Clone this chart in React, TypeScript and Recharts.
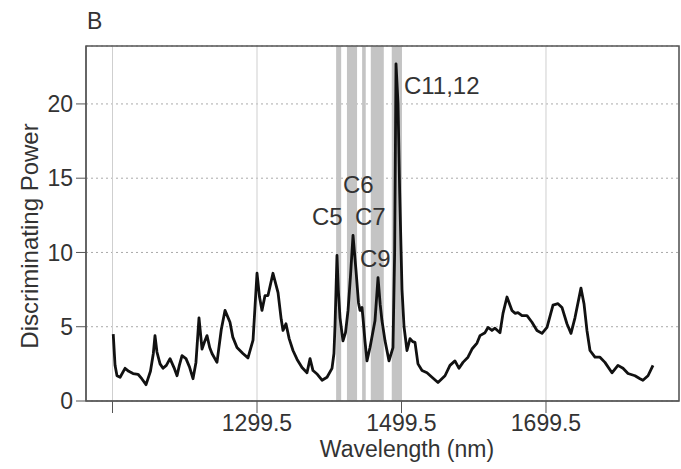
import React from "react"
import {
  LineChart,
  Line,
  XAxis,
  YAxis,
  CartesianGrid,
  ReferenceArea,
  ReferenceDot,
  Label,
} from "recharts"

// spectrum
const wavelengths = [
  1100.5, 1103, 1105.7, 1110, 1116.8, 1122, 1127.9, 1134.8, 1140, 1145.9, 1152, 1156, 1158.3, 1161, 1165.3,
  1169.4, 1174, 1179.1, 1184.6, 1188.8, 1192, 1195.7, 1201.2, 1206, 1210.9, 1215, 1219.2, 1223.4, 1227, 1230.3,
  1234, 1237.2, 1244.1, 1250, 1255.2, 1262.1, 1266, 1271.8, 1280, 1287, 1294, 1299.5, 1303, 1306.4, 1310.6,
  1314.7, 1321.6, 1328.6, 1333, 1335.5, 1339.6, 1344, 1349.3, 1355, 1361.8, 1368.7, 1372.9, 1377, 1383, 1389.5,
  1396.4, 1403.3, 1406, 1407.5, 1410.2, 1412, 1414.4, 1418.5, 1422, 1425.5, 1429, 1432.4, 1436.5, 1440, 1442.1,
  1444.8, 1446.2, 1449, 1451.7, 1455.9, 1462.8, 1467, 1470, 1472.5, 1476.7, 1482.2, 1487.7, 1490, 1491.9, 1494.7,
  1497, 1500.2, 1503, 1507.1, 1511.3, 1515, 1518.2, 1522.3, 1527.9, 1534.8, 1541.7, 1550, 1559.7, 1566.6, 1573.5,
  1579.1, 1584.6, 1591.5, 1597.1, 1604, 1608.1, 1615.1, 1619.2, 1624.7, 1628.9, 1635.8, 1640, 1645.5, 1652.4,
  1656.6, 1660.7, 1666.3, 1673.2, 1680.1, 1687, 1694, 1700.9, 1709.2, 1716.1, 1721.6, 1728.5, 1734.1, 1739.6,
  1747.9, 1752.1, 1756.2, 1760.4, 1767.3, 1774.2, 1781.1, 1790.8, 1799.1, 1806.1, 1813, 1822.7, 1829.6, 1833.7,
  1840.7, 1847.6,
]
const power = [
  4.5, 2.4, 1.7, 1.6, 2.2, 2.0, 1.85, 1.8, 1.5, 1.1, 2.0, 3.2, 4.4, 3.3, 2.5,
  2.2, 2.4, 2.85, 2.25, 1.7, 2.4, 3.05, 2.85, 2.3, 1.5, 2.6, 5.6, 3.5, 4.0, 4.4,
  3.6, 3.2, 2.6, 4.8, 6.1, 5.3, 4.3, 3.6, 3.2, 2.9, 4.1, 8.6, 7.0, 6.1, 7.1,
  7.1, 8.6, 7.3, 5.5, 4.75, 5.2, 4.2, 3.4, 2.8, 2.25, 1.9, 2.85, 2.05, 1.8, 1.4,
  1.6, 2.2, 3.2, 5.1, 9.8, 7.5, 5.6, 4.05, 4.6, 6.1, 8.5, 11.15, 8.8, 6.6, 6.1,
  6.3, 5.6, 4.0, 2.7, 3.6, 5.4, 8.3, 6.5, 5.4, 4.05, 2.7, 3.6, 10, 22.7, 20.0,
  14, 7.5, 5.0, 3.4, 4.2, 4.0, 3.95, 2.5, 2.05, 1.9, 1.6, 1.25, 1.7, 2.4, 2.7,
  2.2, 2.6, 2.95, 3.5, 3.9, 4.4, 4.6, 4.95, 4.75, 4.9, 4.6, 5.9, 7.0, 6.1,
  5.9, 5.95, 5.75, 5.75, 5.3, 4.75, 4.55, 4.95, 6.45, 6.55, 6.3, 5.2, 4.55, 5.6,
  7.6, 6.55, 4.75, 3.4, 2.95, 2.95, 2.6, 1.9, 2.4, 2.2, 1.85, 1.7, 1.5, 1.4,
  1.7, 2.4,
]

// shaded wavelength windows
const bandStart = [1409, 1424, 1445, 1457, 1486]
const bandEnd = [1416, 1438, 1450, 1475, 1500]

// peak labels (left edge / baseline in data units)
const peakNames = ["C5", "C6", "C7", "C9", "C11,12"]
const peakX = [1375.6, 1418.5, 1435.1, 1442, 1502.9]
const peakY = [11.83, 13.98, 11.83, 9.0, 20.7]

const xTicks = [1099.5, 1299.5, 1499.5, 1699.5]
const yTicks = [0, 5, 10, 15, 20]
const xDomain = [1062.8, 1883.6]
const yDomain = [0, 23.9]

const font = "'Liberation Sans', Arial, sans-serif"
const textColor = "#333"

const data = wavelengths.map((wl, i) => ({ wl, p: power[i] }))

export default function App() {
  return (
    <div style={{ position: "absolute", left: 0, top: 0, width: 681, height: 469, background: "#fff" }}>
      <svg style={{ position: "absolute", left: 0, top: 0 }} width={681} height={40}>
        <text x={87} y={29} fontSize={23} fontFamily={font} fill={textColor}>
          B
        </text>
      </svg>
      <LineChart
        width={681}
        height={469}
        data={data}
        margin={{ top: 46, right: 2, left: 0, bottom: 0 }}
        style={{ fontFamily: font }}
      >
        {bandStart.map((s, i) => (
          <ReferenceArea
            key={`band-${i}`}
            x1={s}
            x2={bandEnd[i]}
            y1={yDomain[0]}
            y2={yDomain[1]}
            fill="#c4c4c4"
            fillOpacity={1}
            stroke="none"
          />
        ))}
        <CartesianGrid vertical={false} stroke="#aaa" strokeDasharray="2 3" />
        <CartesianGrid horizontal={false} stroke="#cfcfcf" />
        <XAxis
          dataKey="wl"
          type="number"
          domain={xDomain}
          ticks={xTicks}
          allowDataOverflow
          tickFormatter={(v: number) => (v === 1099.5 ? "" : v.toFixed(1))}
          tickSize={12}
          tickMargin={2}
          height={68}
          axisLine={{ stroke: "#555" }}
          tickLine={{ stroke: "#555" }}
          tick={{ fill: textColor, fontSize: 23 }}
        >
          <Label
            content={() => (
              <text x={407} y={457} textAnchor="middle" fontSize={23} fill={textColor} fontFamily={font}>
                Wavelength (nm)
              </text>
            )}
          />
        </XAxis>
        <YAxis
          type="number"
          domain={yDomain}
          ticks={yTicks}
          allowDataOverflow
          width={86}
          tickSize={10}
          tickMargin={3}
          axisLine={{ stroke: "#555" }}
          tickLine={{ stroke: "#555" }}
          tick={{ fill: textColor, fontSize: 23 }}
        >
          <Label
            content={() => (
              <text
                x={38}
                y={236}
                textAnchor="middle"
                fontSize={24}
                fill={textColor}
                fontFamily={font}
                transform="rotate(-90, 38, 236)"
              >
                Discriminating Power
              </text>
            )}
          />
        </YAxis>
        <ReferenceArea
          x1={xDomain[0]}
          x2={xDomain[1]}
          y1={yDomain[0]}
          y2={yDomain[1]}
          fill="none"
          stroke="#555"
          strokeWidth={1.5}
        />
        <Line
          type="linear"
          dataKey="p"
          stroke="#111"
          strokeWidth={2.8}
          strokeLinejoin="round"
          dot={false}
          isAnimationActive={false}
        />
        {peakNames.map((name, i) => (
          <ReferenceDot
            key={name}
            x={peakX[i]}
            y={peakY[i]}
            r={0}
            fill="none"
            stroke="none"
            label={(props: any) => {
              const vb = props.viewBox || {}
              return (
                <text x={vb.x} y={vb.y} fontSize={24} fill={textColor} fontFamily={font}>
                  {name}
                </text>
              )
            }}
          />
        ))}
      </LineChart>
    </div>
  )
}
